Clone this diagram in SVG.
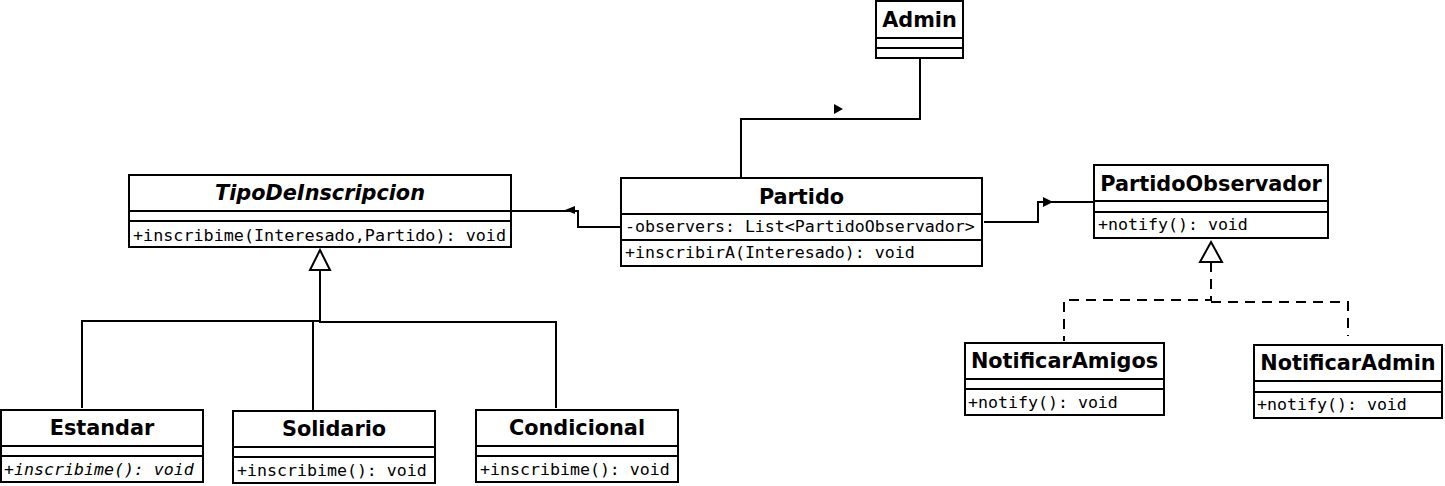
<svg xmlns="http://www.w3.org/2000/svg" width="1445" height="486" viewBox="0 0 1445 486">
<style>
rect.box{fill:#fff;stroke:#000;stroke-width:2}
line.div{stroke:#000;stroke-width:2}
.t{font-family:"DejaVu Sans",sans-serif;font-weight:bold;font-size:20.8px;text-anchor:middle;fill:#000}
.m{font-family:"DejaVu Sans Mono",monospace;font-size:16.6px;fill:#000}
.c{fill:none;stroke:#000;stroke-width:2}
.d{fill:none;stroke:#000;stroke-width:2;stroke-dasharray:10,7}
</style>
<rect width="1445" height="486" fill="#fff"/>
<g id="connectors">
<polyline class="c" points="920,58 920,119 741,119 741,179"/>
<polygon points="834,104 843,109 834,114" fill="#000"/>
<polyline class="c" points="621,227 578,227 578,211 511,211"/>
<polygon points="575,206 565,210 575,214" fill="#000"/>
<polyline class="c" points="984,222 1038,222 1038,202 1094,202"/>
<polygon points="1043,197 1053,202 1043,207" fill="#000"/>
<polyline class="c" points="320,270 320,321 82,321 82,408"/>
<line class="c" x1="313" y1="321" x2="313" y2="411"/>
<polyline class="c" points="320,321 320,322 556,322 556,408"/>
<polygon points="320,250 330,270 310,270" fill="#fff" stroke="#000" stroke-width="2"/>
<polyline class="d" points="1211,262 1211,300 1064,300 1064,341"/>
<polyline class="d" points="1211,302 1348,302 1348,336"/>
<polygon points="1211,242 1222,262 1200,262" fill="#fff" stroke="#000" stroke-width="2"/>
</g>
<g id="Admin">
<rect class="box" x="876" y="1" width="87" height="57"/>
<line class="div" x1="876" y1="38" x2="963" y2="38"/>
<line class="div" x1="876" y1="48" x2="963" y2="48"/>
<text class="t" x="919.5" y="27">Admin</text>
</g>
<g id="Partido">
<rect class="box" x="621" y="178" width="361" height="88"/>
<line class="div" x1="621" y1="214" x2="982" y2="214"/>
<line class="div" x1="621" y1="240" x2="982" y2="240"/>
<text class="t" x="801.5" y="204">Partido</text>
<text class="m" x="625" y="232">-observers: List&lt;PartidoObservador&gt;</text>
<text class="m" x="625" y="258">+inscribirA(Interesado): void</text>
</g>
<g id="TipoDeInscripcion">
<rect class="box" x="129" y="175" width="382" height="72"/>
<line class="div" x1="129" y1="211" x2="511" y2="211"/>
<line class="div" x1="129" y1="221" x2="511" y2="221"/>
<text class="t" x="320" y="200" font-style="italic">TipoDeInscripcion</text>
<text class="m" x="133" y="241" textLength="373" lengthAdjust="spacingAndGlyphs">+inscribime(Interesado,Partido): void</text>
</g>
<g id="PartidoObservador">
<rect class="box" x="1094" y="165" width="234" height="73"/>
<line class="div" x1="1094" y1="201" x2="1328" y2="201"/>
<line class="div" x1="1094" y1="212" x2="1328" y2="212"/>
<text class="t" x="1211" y="191">PartidoObservador</text>
<text class="m" x="1098" y="230">+notify(): void</text>
</g>
<g id="NotificarAmigos">
<rect class="box" x="965" y="343" width="199" height="72"/>
<line class="div" x1="965" y1="379" x2="1164" y2="379"/>
<line class="div" x1="965" y1="389" x2="1164" y2="389"/>
<text class="t" x="1064.5" y="368">NotificarAmigos</text>
<text class="m" x="968" y="408">+notify(): void</text>
</g>
<g id="NotificarAdmin">
<rect class="box" x="1254" y="345" width="188" height="73"/>
<line class="div" x1="1254" y1="381" x2="1442" y2="381"/>
<line class="div" x1="1254" y1="392" x2="1442" y2="392"/>
<text class="t" x="1348" y="370">NotificarAdmin</text>
<text class="m" x="1257" y="410">+notify(): void</text>
</g>
<g id="Estandar">
<rect class="box" x="1" y="410" width="202" height="72"/>
<line class="div" x1="1" y1="446" x2="203" y2="446"/>
<line class="div" x1="1" y1="456" x2="203" y2="456"/>
<text class="t" x="102" y="435">Estandar</text>
<text class="m" x="4" y="475" font-style="italic">+inscribime(): void</text>
</g>
<g id="Solidario">
<rect class="box" x="233" y="411" width="202" height="72"/>
<line class="div" x1="233" y1="447" x2="435" y2="447"/>
<line class="div" x1="233" y1="457" x2="435" y2="457"/>
<text class="t" x="334" y="436">Solidario</text>
<text class="m" x="237" y="476">+inscribime(): void</text>
</g>
<g id="Condicional">
<rect class="box" x="476" y="410" width="202" height="72"/>
<line class="div" x1="476" y1="446" x2="678" y2="446"/>
<line class="div" x1="476" y1="456" x2="678" y2="456"/>
<text class="t" x="577" y="435">Condicional</text>
<text class="m" x="480" y="475">+inscribime(): void</text>
</g>
</svg>
